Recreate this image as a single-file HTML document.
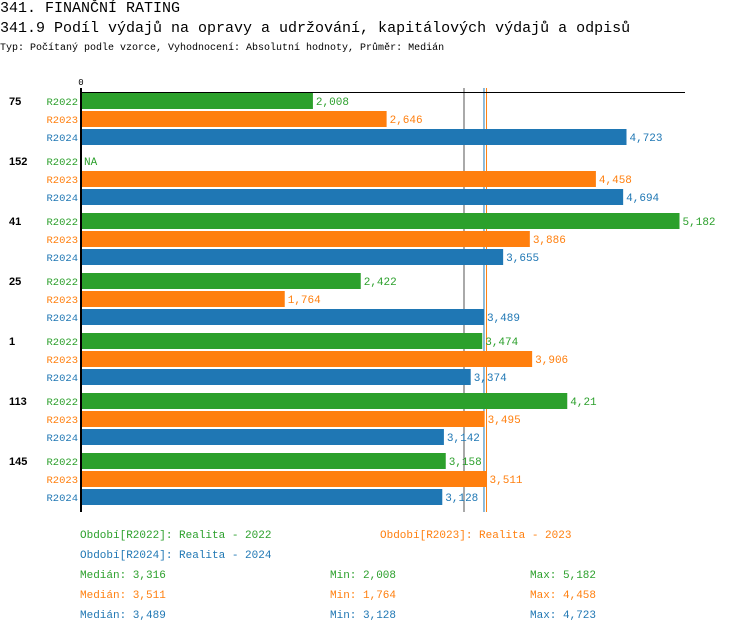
<!DOCTYPE html>
<html><head><meta charset="utf-8"><style>
body{margin:0;background:#fff;width:750px;height:632px;overflow:hidden;font-family:"Liberation Mono",monospace;}
.t{position:absolute;white-space:nowrap;}
</style></head><body>
<div class="t" style="left:0;top:0;font-size:15px;">341. FINANČNÍ RATING</div>
<div class="t" style="left:0;top:20px;font-size:15px;">341.9 Podíl výdajů na opravy a udržování, kapitálových výdajů a odpisů</div>
<div class="t" style="left:0;top:43px;font-size:10px;">Typ: Počítaný podle vzorce, Vyhodnocení: Absolutní hodnoty, Průměr: Medián</div>
<svg id="chart" width="750" height="632" style="position:absolute;left:0;top:0;font-family:'Liberation Mono',monospace;font-size:11px;"></svg>
<script>
const groups=["75","152","41","25","1","113","145"];
const seriesNames=["R2022","R2023","R2024"];
const v2022=[2.008,null,5.182,2.422,3.474,4.21,3.158];
const v2023=[2.646,4.458,3.886,1.764,3.906,3.495,3.511];
const v2024=[4.723,4.694,3.655,3.489,3.374,3.142,3.128];
const labels2022=["2,008","NA","5,182","2,422","3,474","4,21","3,158"];
const labels2023=["2,646","4,458","3,886","1,764","3,906","3,495","3,511"];
const labels2024=["4,723","4,694","3,655","3,489","3,374","3,142","3,128"];
const medians=[3.316,3.511,3.489];
const mins=["2,008","1,764","3,128"];
const maxs=["5,182","4,458","4,723"];
const medLabels=["3,316","3,511","3,489"];
const colors=["#2ca02c","#ff7f0e","#1f77b4"];
const NS="http://www.w3.org/2000/svg";
const svg=document.getElementById('chart');
const x0=81,scale=115.5;
const x=v=>x0+v*scale;
const y=(g,s)=>93+g*60+s*18;
function mk(tag,attrs,text){const e=document.createElementNS(NS,tag);for(const k in attrs)e.setAttribute(k,attrs[k]);if(text!==undefined)e.textContent=text;svg.appendChild(e);return e;}
const vals=[v2022,v2023,v2024],labs=[labels2022,labels2023,labels2024];
medians.forEach((m,i)=>{
  const l=mk('line',{x1:x(m),x2:x(m),y1:88,y2:512,stroke:i==0?'#555':colors[i],'stroke-width':1});
  
  
});
groups.forEach((g,gi)=>{
  const gl=mk('text',{x:9,y:y(gi,0)+12,'font-weight':'bold','font-family':'Liberation Sans,sans-serif'},g);
  
  
  for(let s=0;s<3;s++){
    const sl=mk('text',{x:78,y:y(gi,s)+12,'text-anchor':'end',fill:colors[s],'font-size':'10.5px'},seriesNames[s]);
    
    
    const v=vals[s][gi];
    let end=x0;
    if(v!==null){
      const r=mk('rect',{x:x0,y:y(gi,s),width:x(v)-x0,height:16,fill:colors[s]});
      
      
      end=x(v);
    }
    const vl=mk('text',{x:end+3,y:y(gi,s)+12,fill:colors[s]},labs[s][gi]);
    
    
  }
});
const ax=mk('line',{x1:x0,x2:685,y1:92.5,y2:92.5,stroke:'#000'});


const ay=mk('line',{x1:x0,x2:x0,y1:88,y2:512,stroke:'#000','stroke-width':2});


const z=mk('text',{x:x0,y:85,'text-anchor':'middle','font-size':'9px'},'0');


function leg(xx,yy,c,t){const e=mk('text',{x:xx,y:yy,fill:c},t);}
leg(80,538,colors[0],'Období[R2022]: Realita - 2022');
leg(380,538,colors[1],'Období[R2023]: Realita - 2023');
leg(80,558,colors[2],'Období[R2024]: Realita - 2024');
for(let i=0;i<3;i++){
  leg(80,578+i*20,colors[i],'Medián: '+medLabels[i]);
  leg(330,578+i*20,colors[i],'Min: '+mins[i]);
  leg(530,578+i*20,colors[i],'Max: '+maxs[i]);
}
</script>
</body></html>
